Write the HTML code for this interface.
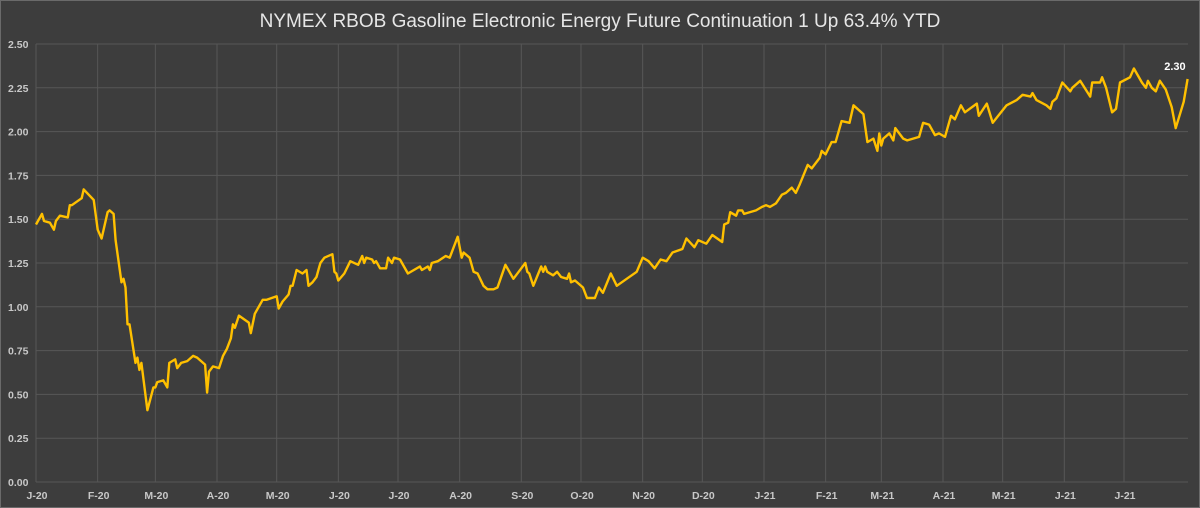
<!DOCTYPE html>
<html><head><meta charset="utf-8"><style>
html,body{margin:0;padding:0;background:#3d3d3d;}
svg{display:block;font-family:"Liberation Sans",sans-serif;}
</style></head><body>
<svg id="chart" width="1200" height="508" viewBox="0 0 1200 508">
<rect x="0.5" y="0.5" width="1199" height="507" fill="#3d3d3d" stroke="#6a6a6a"/>
<text x="600" y="27" text-anchor="middle" font-size="19" fill="#e6e6e6">NYMEX RBOB Gasoline Electronic Energy Future Continuation 1 Up 63.4% YTD</text>
<g id="grid"></g>
<g id="yticks"></g>
<g id="xticks"></g>
<g id="series"></g>
</svg>
<script>
const yTicks=[0,0.25,0.5,0.75,1.0,1.25,1.5,1.75,2.0,2.25,2.5];
const monthLabels=["J-20","F-20","M-20","A-20","M-20","J-20","J-20","A-20","S-20","O-20","N-20","D-20","J-21","F-21","M-21","A-21","M-21","J-21","J-21"];
const monthDays=[0,31,60,91,121,152,182,213,244,274,305,335,366,397,425,456,486,517,547];
const days=[0,3,4,7,9,10,12,16,17,18,23,24,29,31,33,36,37,39,40,43,44,45,46,47,50,51,52,53,56,59,60,61,64,66,67,70,71,73,76,79,81,82,85,86,87,89,92,94,96,98,99,100,102,107,108,110,114,116,121,122,124,127,128,129,131,134,136,137,139,141,142,143,145,149,150,151,152,155,158,162,164,165,166,169,170,171,173,176,177,179,180,183,187,190,193,194,197,198,199,202,206,208,212,214,215,218,220,222,225,227,230,232,236,240,244,246,247,248,250,254,255,256,257,260,262,264,267,268,269,271,275,277,281,283,285,289,292,297,302,305,308,311,314,317,320,325,327,331,333,337,340,345,346,348,349,352,353,355,356,362,365,367,369,372,375,377,380,382,384,388,390,394,395,397,400,402,405,409,411,416,418,421,423,424,425,426,429,431,432,436,438,444,446,449,452,454,457,460,462,465,467,473,474,478,481,488,493,496,500,501,503,508,510,511,513,516,520,521,525,530,531,535,536,538,541,543,545,550,552,556,558,559,561,563,565,568,571,573,577,579];
const values=[1.47,1.53,1.49,1.48,1.44,1.49,1.52,1.51,1.58,1.58,1.62,1.67,1.61,1.44,1.39,1.54,1.55,1.53,1.38,1.14,1.16,1.11,0.90,0.90,0.68,0.71,0.64,0.68,0.41,0.54,0.54,0.57,0.58,0.54,0.68,0.70,0.65,0.68,0.69,0.72,0.71,0.70,0.67,0.51,0.63,0.66,0.65,0.72,0.76,0.82,0.90,0.88,0.95,0.91,0.85,0.96,1.04,1.04,1.06,0.99,1.03,1.07,1.12,1.12,1.21,1.19,1.21,1.12,1.14,1.17,1.21,1.25,1.28,1.30,1.20,1.19,1.15,1.19,1.26,1.24,1.29,1.25,1.28,1.27,1.25,1.26,1.22,1.22,1.28,1.25,1.28,1.27,1.19,1.21,1.23,1.21,1.23,1.21,1.25,1.26,1.29,1.28,1.40,1.28,1.31,1.28,1.20,1.19,1.12,1.10,1.10,1.11,1.24,1.16,1.22,1.25,1.20,1.19,1.12,1.23,1.20,1.23,1.20,1.18,1.20,1.17,1.16,1.19,1.14,1.15,1.11,1.05,1.05,1.11,1.08,1.19,1.12,1.16,1.20,1.28,1.26,1.22,1.27,1.26,1.31,1.33,1.39,1.34,1.38,1.36,1.41,1.37,1.47,1.48,1.54,1.52,1.55,1.55,1.53,1.55,1.57,1.58,1.57,1.59,1.64,1.65,1.68,1.65,1.70,1.81,1.79,1.85,1.89,1.87,1.94,1.94,2.06,2.05,2.15,2.10,1.94,1.96,1.89,1.99,1.92,1.96,1.99,1.95,2.02,1.96,1.95,1.97,2.05,2.04,1.98,1.99,1.97,2.09,2.07,2.15,2.11,2.16,2.09,2.16,2.05,2.15,2.18,2.21,2.20,2.22,2.18,2.15,2.13,2.17,2.19,2.28,2.23,2.25,2.29,2.20,2.28,2.28,2.31,2.25,2.11,2.13,2.28,2.31,2.36,2.28,2.25,2.29,2.25,2.23,2.29,2.24,2.14,2.02,2.17,2.30];
const lastLabel="2.30";

const NS="http://www.w3.org/2000/svg";
const L=36,R=1188,T=44,B=482;
const xs=d=>L+d*(1124-L)/547;
const ys=v=>B-(v/2.5)*(B-T);
function mk(tag,attrs,parent){const e=document.createElementNS(NS,tag);for(const k in attrs)e.setAttribute(k,attrs[k]);parent.appendChild(e);return e;}
const grid=document.getElementById('grid'),yt=document.getElementById('yticks'),xt=document.getElementById('xticks'),ser=document.getElementById('series');
yTicks.forEach(v=>{
  const ln=mk('line',{x1:L,x2:R,y1:ys(v),y2:ys(v),stroke:'#575757','stroke-width':1},grid);
  
  
  const t=mk('text',{x:8,y:ys(v)+4,'font-size':10.5,'font-weight':'bold',fill:'#c8c8c8'},yt);
  t.textContent=v.toFixed(2);
  
  
});
monthDays.forEach((d,i)=>{
  const ln=mk('line',{x1:xs(d),x2:xs(d),y1:T,y2:B,stroke:'#575757','stroke-width':1},grid);
  
  
  const t=mk('text',{x:xs(d)+1,y:499,'text-anchor':'middle','font-size':10.5,'font-weight':'bold',fill:'#c8c8c8'},xt);
  t.textContent=monthLabels[i];
  
  
});
const pts=days.map((d,i)=>xs(d).toFixed(1)+','+ys(values[i]).toFixed(1)).join(' ');
const pl=mk('polyline',{points:pts,fill:'none',stroke:'#ffc000','stroke-width':2.4,'stroke-linejoin':'round'},ser);


const lv=mk('text',{x:xs(days[days.length-1])-2,y:ys(values[values.length-1])-9,'text-anchor':'end','font-size':11,'font-weight':'bold',fill:'#ffffff'},ser);
lv.textContent=lastLabel;


</script>
</body></html>
